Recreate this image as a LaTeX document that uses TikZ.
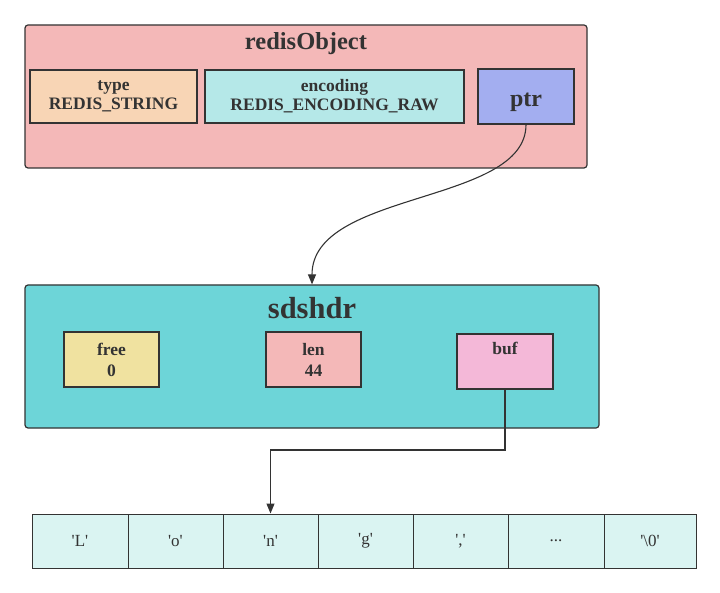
\documentclass[tikz,border=0pt]{standalone}
\usepackage{fontspec}
\setmainfont{Liberation Serif}
\newfontfamily\cellfont{Liberation Serif}[Ligatures=TeXOff]
\usetikzlibrary{arrows.meta}
\definecolor{ink}{HTML}{333333}
\definecolor{robj}{HTML}{F4B8B8}
\definecolor{peach}{HTML}{F8D5B5}
\definecolor{aqua}{HTML}{B5E8E8}
\definecolor{lav}{HTML}{A3AEF0}
\definecolor{teal}{HTML}{6DD5D8}
\definecolor{sand}{HTML}{F0E2A0}
\definecolor{pinkish}{HTML}{F4B8D8}
\definecolor{cellc}{HTML}{DAF4F2}
\tikzset{
  outerbox/.style={draw=ink, line width=1.2pt, rounded corners=3pt, inner sep=0pt},
  fieldbox/.style={draw=ink, line width=1.2pt, inner sep=0pt, text=ink, font=\bfseries\fontsize{17.5}{20}\selectfont, align=center},
  cellbox/.style={draw=ink, line width=1pt, fill=cellc, inner sep=0pt, text=ink, font=\cellfont\fontsize{17}{20}\selectfont},
  titletext/.style={text=ink, font=\bfseries\fontsize{24.5}{28}\selectfont, inner sep=0pt},
  conn/.style={draw=ink, line width=1.1pt, -{Triangle[length=10pt,width=8pt]}}
}
\begin{document}
\begin{tikzpicture}[x=1pt,y=-1pt]
\useasboundingbox (0,0) rectangle (720,593);
% redisObject
\node[outerbox, fill=robj, minimum width=562pt, minimum height=143pt] (robj) at (306,96.5) {};
\node[titletext] (rtitle) at (306,44) {redisObject};
\node[fieldbox, fill=peach, minimum width=167pt, minimum height=53pt] (type) at (113.5,96.5) {type\\[-1pt]REDIS\_STRING};
\node[fieldbox, fill=aqua, minimum width=259pt, minimum height=53pt] (enc) at (334.5,96.5) {encoding\\[-1pt]REDIS\_ENCODING\_RAW};
\node[fieldbox, fill=lav, minimum width=96pt, minimum height=55pt] (ptr) at (526,96.5) {};
\node[text=ink, font=\bfseries\fontsize{24}{28}\selectfont, inner sep=0pt, anchor=base] (ptrtext) at (526,107) {ptr};
% sdshdr
\node[outerbox, fill=teal, minimum width=574pt, minimum height=143pt] (sds) at (312,356.5) {};
\node[titletext, font=\bfseries\fontsize{30.5}{34}\selectfont] (stitle) at (312,308) {sdshdr};
\node[fieldbox, fill=sand, minimum width=95pt, minimum height=55pt] (free) at (111.5,359.5) {free\\[1pt]0};
\node[fieldbox, fill=robj, minimum width=95pt, minimum height=55pt] (len) at (313.5,359.5) {len\\[1pt]44};
\node[fieldbox, fill=pinkish, minimum width=96pt, minimum height=55pt] (buf) at (505,361.5) {};
\node[text=ink, font=\bfseries\fontsize{17.5}{20}\selectfont, inner sep=0pt] (buftext) at (505,348) {buf};
% cells
\node[cellbox, minimum width=96pt, minimum height=54pt] (c1) at (80,541) {'L'};
\node[cellbox, minimum width=95pt, minimum height=54pt] (c2) at (175.5,541) {'o'};
\node[cellbox, minimum width=95pt, minimum height=54pt] (c3) at (270.5,541) {'n'};
\node[cellbox, minimum width=95pt, minimum height=54pt] (c4) at (365.5,541) {'g'};
\node[cellbox, minimum width=95pt, minimum height=54pt] (c5) at (460.5,541) {','};
\node[cellbox, minimum width=96pt, minimum height=54pt] (c6) at (556,541) {...};
\node[cellbox, minimum width=92pt, minimum height=54pt] (c7) at (650,541) {'\textbackslash 0'};
% connectors
\draw[conn] (ptr.south) .. controls (526,205) and (312,190) .. (sds.north);
\coordinate (bend1) at (505,450);
\coordinate (bend2) at (270.5,450);
\draw[conn] (buf.south) -- (bend1) -- (bend2) -- (c3.north);
\end{tikzpicture}
\end{document}
